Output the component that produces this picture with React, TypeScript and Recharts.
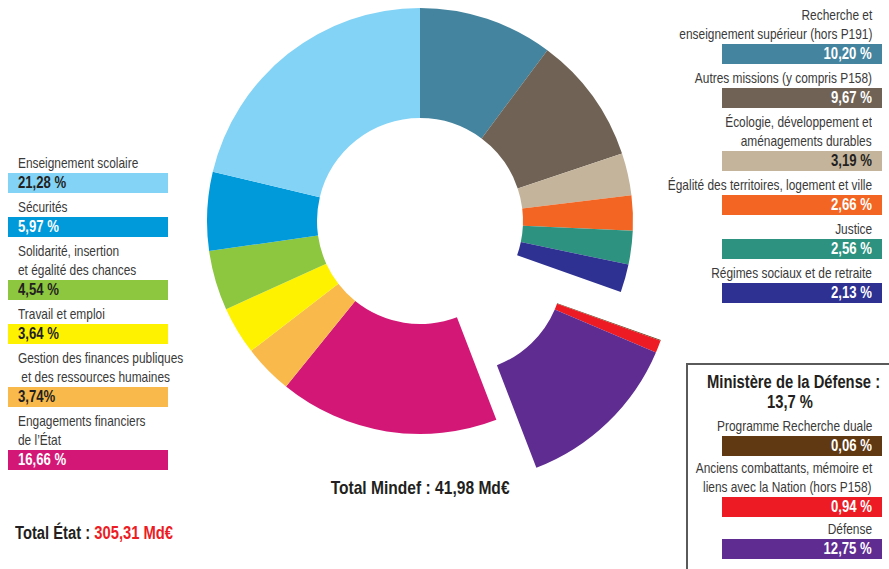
import { PieChart, Pie, Cell } from 'recharts';

// clockwise from 12 o'clock
const names = [
  'Recherche et\nenseignement supérieur (hors P191)',
  'Autres missions (y compris P158)',
  'Écologie, développement et\naménagements durables',
  'Égalité des territoires, logement et ville',
  'Justice',
  'Régimes sociaux et de retraite',
  'Programme Recherche duale',
  'Anciens combattants, mémoire et\nliens avec la Nation (hors P158)',
  'Défense',
  'Engagements financiers\nde l’État',
  'Gestion des finances publiques\n et des ressources humaines',
  'Travail et emploi',
  'Solidarité, insertion\net égalité des chances',
  'Sécurités',
  'Enseignement scolaire',
];
const values = [10.2, 9.67, 3.19, 2.66, 2.56, 2.13, 0.06, 0.94, 12.75, 16.66, 3.74, 3.64, 4.54, 5.97, 21.28];
const valueLabels = [
  '10,20 %', '9,67 %', '3,19 %', '2,66 %', '2,56 %', '2,13 %',
  '0,06 %', '0,94 %', '12,75 %',
  '16,66 %', '3,74%', '3,64 %', '4,54 %', '5,97 %', '21,28 %',
];
const colors = [
  '#44849e', '#706356', '#c4b49c', '#f26522', '#2e9280', '#2e3192',
  '#603913', '#ed1c24', '#5f2c91',
  '#d31777', '#f9b94b', '#fff200', '#8dc63f', '#0099da', '#83d3f6',
];
const darkValue = [2, 10, 11, 12, 14];

const rightItems = [0, 1, 2, 3, 4, 5];
const defenseItems = [6, 7, 8];
const leftItems = [14, 13, 12, 11, 10, 9];

const defenseTitle = 'Ministère de la Défense :';
const defenseTotal = '13,7 %';
const totalMindef = 'Total Mindef : 41,98 Md€';
const totalEtatLabel = 'Total État : ';
const totalEtatValue = '305,31 Md€';

// Liberation Sans squeezed horizontally stands in for a condensed face
const FONT = '"Liberation Sans", Arial, sans-serif';
const SQUEEZE = 0.82;
const TEXT = '#3a3a3a';
const INK = '#231f20';

const sum = (arr: number[]) => arr.reduce((a, b) => a + b, 0);
const total = sum(values);
const before = sum(values.slice(0, defenseItems[0]));
const groupSum = sum(defenseItems.map((i) => values[i]));
const defStart = 90 - (360 * before) / total;
const defEnd = 90 - (360 * (before + groupSum)) / total;

const mainData = names.map((n, i) => ({ name: n, value: values[i] }));
const defenseData = defenseItems.map((i) => ({ name: names[i], value: values[i] }));

const CX = 420;
const CY = 221;

function T({ children, origin }: { children: any; origin: 'left' | 'right' | 'center' }) {
  return (
    <span style={{ display: 'inline-block', whiteSpace: 'pre', transform: `scaleX(${SQUEEZE})`, transformOrigin: origin }}>
      {children}
    </span>
  );
}

function Entry({ i, align }: { i: number; align: 'left' | 'right' }) {
  const lines = names[i].split('\n');
  return (
    <div style={{ display: 'flex', flexDirection: 'column', alignItems: align === 'left' ? 'flex-start' : 'flex-end' }}>
      {lines.map((l, k) => (
        <div
          key={k}
          style={{
            height: 19, lineHeight: '19px', fontSize: 14.5, color: TEXT, whiteSpace: 'pre',
            paddingLeft: align === 'left' ? 10 : 0, paddingRight: align === 'right' ? 10 : 0,
          }}
        >
          <T origin={align}>{l}</T>
        </div>
      ))}
      <div
        style={{
          width: 160, height: 20, background: colors[i], boxSizing: 'border-box',
          padding: '0 10px', textAlign: align, lineHeight: '20px', fontSize: 16, fontWeight: 700,
          color: darkValue.includes(i) ? INK : '#fff',
        }}
      >
        <T origin={align}>{valueLabels[i]}</T>
      </div>
    </div>
  );
}

export default function App() {
  return (
    <div style={{ position: 'absolute', left: 0, top: 0, width: 889, height: 569, overflow: 'hidden', background: '#fff', fontFamily: FONT }}>
      <div style={{ position: 'absolute', left: 0, top: 0 }}>
        <PieChart width={889} height={569} margin={{ top: 0, right: 0, bottom: 0, left: 0 }}>
          <Pie
            data={mainData}
            dataKey="value"
            cx={CX}
            cy={CY}
            innerRadius={103}
            outerRadius={213}
            startAngle={90}
            endAngle={-270}
            stroke="none"
            isAnimationActive={false}
          >
            {mainData.map((_, i) => (
              <Cell key={i} fill={defenseItems.includes(i) ? 'none' : colors[i]} />
            ))}
          </Pie>
          <Pie
            data={defenseData}
            dataKey="value"
            cx={CX + 40}
            cy={CY + 48}
            innerRadius={103}
            outerRadius={213}
            startAngle={defStart}
            endAngle={defEnd}
            stroke="none"
            isAnimationActive={false}
          >
            {defenseItems.map((i) => (
              <Cell key={i} fill={colors[i]} />
            ))}
          </Pie>
        </PieChart>
      </div>

      <div style={{ position: 'absolute', left: 8, top: 154, display: 'flex', flexDirection: 'column', gap: 5 }}>
        {leftItems.map((i) => <Entry key={i} i={i} align="left" />)}
      </div>

      <div style={{ position: 'absolute', right: 7, top: 6, display: 'flex', flexDirection: 'column', alignItems: 'flex-end', gap: 5 }}>
        {rightItems.map((i) => <Entry key={i} i={i} align="right" />)}
      </div>

      <div
        style={{
          position: 'absolute', left: 686, top: 363, width: 210, height: 220, boxSizing: 'border-box',
          borderLeft: '2px solid #5a5a5a', borderTop: '2px solid #5a5a5a',
        }}
      >
        <div style={{ textAlign: 'center', fontWeight: 700, fontSize: 18, lineHeight: '20px', color: INK, marginTop: 7, paddingRight: 4 }}>
          <div><T origin="center">{defenseTitle}</T></div>
          <div><T origin="center">{defenseTotal}</T></div>
        </div>
      </div>
      <div style={{ position: 'absolute', right: 7, top: 417, display: 'flex', flexDirection: 'column', alignItems: 'flex-end', gap: 3 }}>
        {defenseItems.map((i) => <Entry key={i} i={i} align="right" />)}
      </div>

      <div style={{ position: 'absolute', left: CX - 150, width: 300, top: 477, textAlign: 'center', fontWeight: 700, fontSize: 19, color: INK }}>
        <T origin="center">{totalMindef}</T>
      </div>
      <div style={{ position: 'absolute', left: 15, top: 523, fontWeight: 700, fontSize: 18, color: INK }}>
        <T origin="left">
          {totalEtatLabel}
          <span style={{ color: '#ed1c24' }}>{totalEtatValue}</span>
        </T>
      </div>
    </div>
  );
}
